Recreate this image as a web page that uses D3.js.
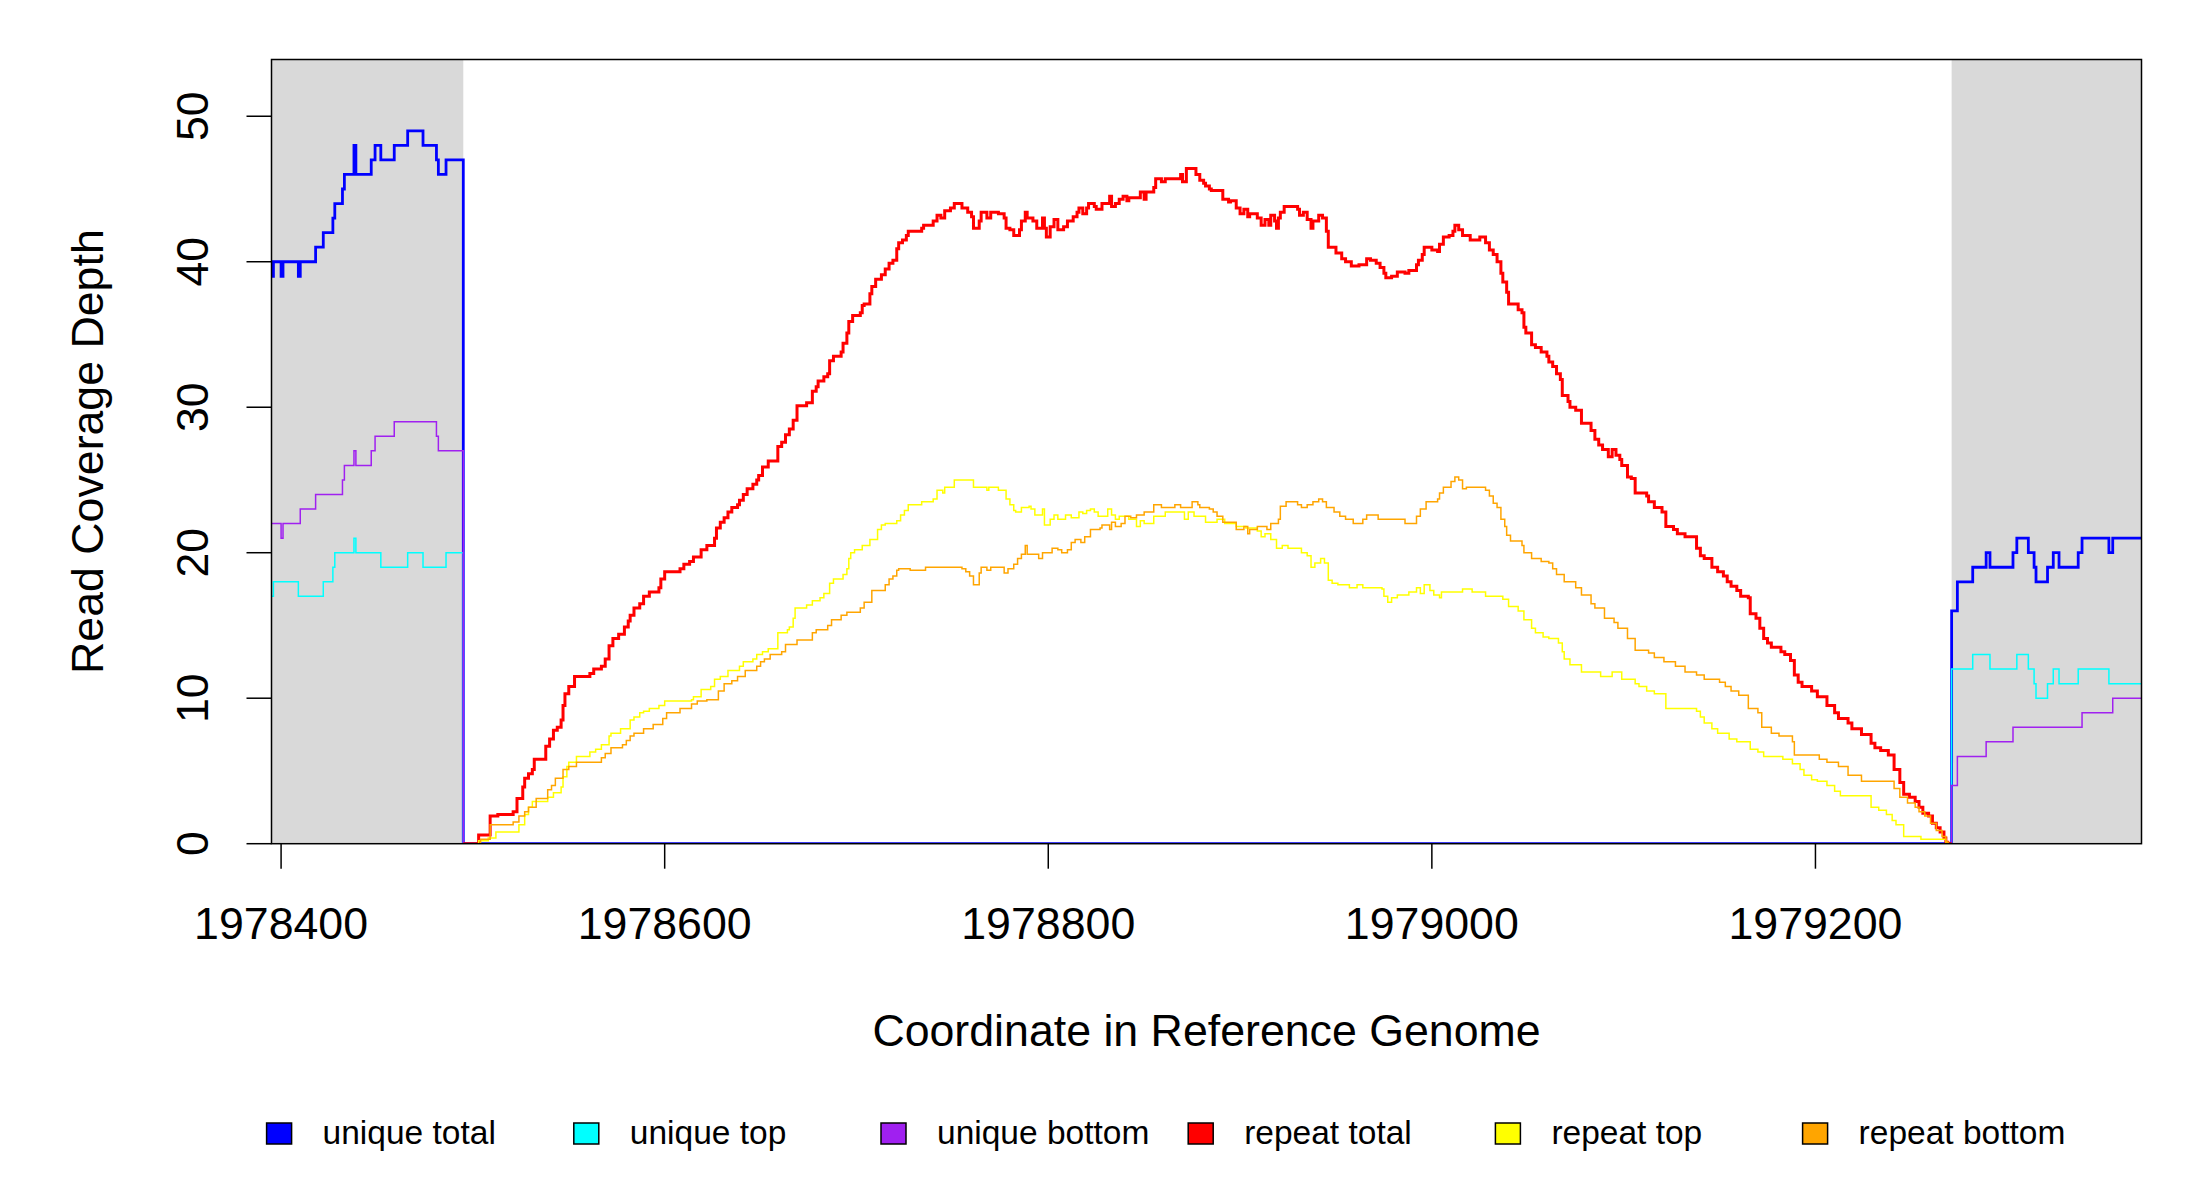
<!DOCTYPE html>
<html><head><meta charset="utf-8">
<script src="https://cdn.jsdelivr.net/npm/d3@7"></script>
<style>body{margin:0;background:#fff}svg{display:block}text{font-family:"Liberation Sans",Arial,Helvetica,sans-serif;fill:#000}</style>
</head><body><svg id="chart" width="2200" height="1200"></svg>
<script>
// ---------- data ----------
const xTicks = [1978400, 1978600, 1978800, 1979000, 1979200];
const yTicks = [0, 10, 20, 30, 40, 50];
const xDomain = [1978395, 1979370];
const yDomain = [0, 53.9];
const flankBounds = [1978495, 1979271];
const legendLabels = ["unique total", "unique top", "unique bottom", "repeat total", "repeat top", "repeat bottom"];
const seriesColors = ["#0000FF", "#00FFFF", "#A020F0", "#FF0000", "#FFFF00", "#FFA500"];

const uniqueTotal = [[1978395,39],[1978396,40],[1978400,39],[1978401,40],[1978409,39],[1978410,40],[1978418,41],[1978422,42],[1978427,43],[1978428,44],[1978432,45],[1978433,46],[1978438,48],[1978439,46],[1978447,47],[1978449,48],[1978452,47],[1978459,48],[1978466,49],[1978474,48],[1978481,47],[1978482,46],[1978486,47],[1978495,0],[1979271,16],[1979274,18],[1979282,19],[1979289,20],[1979291,19],[1979303,20],[1979305,21],[1979311,20],[1979314,19],[1979315,18],[1979321,19],[1979324,20],[1979327,19],[1979337,20],[1979339,21],[1979353,20],[1979355,21]];

const uniqueTop = [[1978395,17],[1978396,18],[1978409,17],[1978422,18],[1978427,19],[1978428,20],[1978438,21],[1978439,20],[1978452,19],[1978466,20],[1978474,19],[1978486,20],[1978495,0],[1979271,12],[1979282,13],[1979291,12],[1979305,13],[1979311,12],[1979314,11],[1979315,10],[1979321,11],[1979324,12],[1979327,11],[1979337,12],[1979353,11]];

const uniqueBottom = [[1978395,22],[1978400,21],[1978401,22],[1978410,23],[1978418,24],[1978432,25],[1978433,26],[1978438,27],[1978439,26],[1978447,27],[1978449,28],[1978459,29],[1978481,28],[1978482,27],[1978495,0],[1979271,4],[1979274,6],[1979289,7],[1979303,8],[1979339,9],[1979355,10]];

const repeatTotal = [[1978495,0],[1978503,0.6],[1978509,1.9],[1978513,2.0],[1978521,2.2],[1978523,3.1],[1978526,3.9],[1978527,4.5],[1978529,4.8],[1978531,5.1],[1978532,5.8],[1978538,6.7],[1978540,7.2],[1978542,7.8],[1978544,8.0],[1978546,8.5],[1978547,9.5],[1978548,10.3],[1978550,10.8],[1978553,11.5],[1978561,11.7],[1978563,12.0],[1978567,12.2],[1978569,12.7],[1978571,13.6],[1978573,14.1],[1978576,14.4],[1978579,14.9],[1978581,15.3],[1978582,15.7],[1978584,16.2],[1978587,16.5],[1978589,17.0],[1978592,17.3],[1978597,17.6],[1978598,18.2],[1978600,18.7],[1978608,18.9],[1978610,19.2],[1978613,19.4],[1978615,19.7],[1978619,20.2],[1978622,20.5],
[1978626,21.0],[1978627,21.7],[1978629,22.1],[1978631,22.4],[1978633,22.8],[1978635,23.1],[1978638,23.3],[1978639,23.6],[1978641,24.0],[1978643,24.4],[1978646,24.7],[1978648,25.0],[1978649,25.3],[1978651,25.9],[1978654,26.3],[1978659,27.3],[1978661,27.6],[1978663,28.1],[1978665,28.5],[1978667,29.1],[1978669,30.1],[1978674,30.3],[1978677,31.1],[1978679,31.4],[1978680,31.8],[1978683,32.1],[1978685,32.3],[1978686,33.2],[1978688,33.5],[1978692,33.8],[1978693,34.4],[1978695,35.1],[1978696,35.9],[1978698,36.3],[1978702,36.5],[1978703,37.0],[1978704,37.1],[1978707,37.8],[1978708,38.3],[1978710,38.8],[1978713,39.1],[1978715,39.5],[1978717,39.9],[1978719,40.1],[1978721,40.9],[1978722,41.3],[1978724,41.5],[1978726,41.8],[1978727,42.1],[1978734,42.3],[1978735,42.5],[1978740,42.8],[1978742,43.2],[1978744,43.0],[1978746,43.5],[1978749,43.7],[1978751,44.0],
[1978755,43.7],[1978758,43.4],[1978760,43.1],[1978761,42.3],[1978764,42.8],[1978765,43.4],[1978768,43.0],[1978770,43.4],[1978774,43.3],[1978777,43.0],[1978778,42.3],[1978780,42.2],[1978782,41.8],[1978785,42.2],[1978786,42.8],[1978788,43.4],[1978789,43.0],[1978792,42.8],[1978794,42.3],[1978797,43.0],[1978798,42.3],[1978799,41.7],[1978801,42.4],[1978803,42.9],[1978805,42.2],[1978808,42.4],[1978810,42.8],[1978813,43.1],[1978815,43.4],[1978816,43.7],[1978818,43.3],[1978820,43.7],[1978821,44.0],[1978824,43.8],[1978825,43.6],[1978828,44.0],[1978832,44.5],[1978833,43.8],[1978835,44.0],[1978837,44.3],[1978839,44.5],[1978841,44.2],[1978842,44.4],[1978848,44.8],[1978850,44.3],[1978851,44.8],[1978855,45.1],[1978856,45.7],[1978859,45.5],[1978861,45.7],[1978869,46.0],[1978870,45.5],[1978872,46.4],[1978877,46.0],[1978879,45.6],[1978881,45.4],[1978882,45.2],[1978884,45.0],
[1978885,44.9],[1978891,44.3],[1978894,44.1],[1978895,44.2],[1978898,43.7],[1978900,43.3],[1978902,43.6],[1978904,43.1],[1978905,43.3],[1978909,43.0],[1978911,42.5],[1978913,42.9],[1978915,42.5],[1978916,43.2],[1978918,42.8],[1978919,42.3],[1978920,43.0],[1978921,43.4],[1978923,43.8],[1978930,43.6],[1978931,43.2],[1978933,43.4],[1978935,42.9],[1978937,42.3],[1978938,42.8],[1978941,43.2],[1978943,43.0],[1978945,42.1],[1978946,41.0],[1978950,40.6],[1978953,40.2],[1978955,40.0],[1978958,39.7],[1978962,39.8],[1978966,40.2],[1978968,40.1],[1978971,39.9],[1978973,39.6],[1978975,39.2],[1978976,38.9],[1978979,39.0],[1978982,39.3],[1978986,39.2],[1978988,39.4],[1978992,39.8],[1978993,40.1],[1978995,40.5],[1978996,41.0],[1979000,40.8],[1979003,40.7],[1979004,41.2],[1979006,41.7],[1979009,41.8],[1979011,42.1],[1979012,42.5],[1979014,42.2],[1979016,41.8],
[1979020,41.5],[1979025,41.7],[1979028,41.3],[1979030,40.8],[1979032,40.5],[1979034,40.0],[1979036,39.2],[1979037,38.6],[1979039,37.9],[1979040,37.1],[1979045,36.7],[1979047,36.5],[1979048,35.5],[1979049,35.1],[1979052,34.3],[1979054,34.1],[1979057,33.8],[1979060,33.5],[1979061,33.1],[1979063,32.8],[1979065,32.3],[1979067,31.9],[1979068,30.8],[1979071,30.4],[1979072,30.0],[1979075,29.8],[1979078,28.9],[1979083,28.4],[1979085,27.8],[1979087,27.4],[1979089,27.1],[1979092,26.6],[1979094,27.1],[1979096,26.7],[1979098,26.4],[1979099,26.0],[1979102,25.2],[1979104,25.1],[1979106,24.1],[1979112,23.9],[1979113,23.5],[1979116,23.1],[1979120,22.8],[1979122,21.8],[1979126,21.6],[1979128,21.3],[1979132,21.1],[1979138,20.3],[1979140,19.8],[1979142,19.6],[1979146,19.0],
[1979149,18.7],[1979152,18.4],[1979154,18.0],[1979156,17.7],[1979159,17.4],[1979161,17.0],[1979165,16.9],[1979166,15.8],[1979169,15.5],[1979171,14.8],[1979173,14.1],[1979175,13.8],[1979177,13.5],[1979182,13.2],[1979184,13.0],[1979187,12.6],[1979189,11.6],[1979191,11.1],[1979193,10.8],[1979198,10.5],[1979201,10.1],[1979206,9.5],[1979210,9.0],[1979212,8.6],[1979217,8.3],[1979219,7.9],[1979224,7.5],[1979229,6.9],[1979231,6.6],[1979234,6.4],[1979238,6.1],[1979241,5.1],[1979244,4.2],[1979246,3.4],[1979249,3.2],[1979252,2.9],[1979254,2.5],[1979256,2.1],[1979259,1.9],[1979261,1.4],[1979263,1.1],[1979265,0.8],[1979267,0.4],[1979268,0.1],[1979269,0],[1979271,0]];

const repeatTop = [[1978395,0],[1978503,0.2],[1978508,0.4],[1978512,0.8],[1978524,1.3],[1978527,2.0],[1978529,2.5],[1978531,2.9],[1978539,3.2],[1978542,3.5],[1978546,3.9],[1978547,4.6],[1978549,5.3],[1978550,5.6],[1978554,6.0],[1978561,6.3],[1978564,6.5],[1978567,6.8],[1978571,7.4],[1978572,7.6],[1978577,7.9],[1978582,8.5],[1978584,8.7],[1978587,9.0],[1978589,9.1],[1978592,9.3],[1978597,9.5],[1978600,9.8],[1978614,9.9],[1978615,10.1],[1978619,10.6],
[1978624,10.8],[1978626,11.3],[1978629,11.5],[1978633,11.9],[1978639,12.2],[1978641,12.5],[1978646,12.7],[1978648,13.0],[1978651,13.2],[1978654,13.4],[1978659,14.5],[1978664,14.7],[1978665,14.9],[1978667,15.5],[1978668,16.2],[1978674,16.4],[1978677,16.7],[1978681,16.9],[1978683,17.2],[1978686,17.9],[1978688,18.2],[1978693,18.5],[1978695,18.9],[1978696,19.6],[1978697,20.0],[1978699,20.2],[1978703,20.5],[1978707,20.9],[1978711,21.6],[1978713,21.9],[1978715,22.0],[1978721,22.2],[1978723,22.6],[1978725,22.9],[1978727,23.3],[1978734,23.5],[1978740,23.7],[1978742,24.3],[1978745,24.1],[1978746,24.5],[1978751,25.0],
[1978761,24.5],[1978768,24.3],[1978769,24.5],[1978774,24.3],[1978778,23.7],[1978780,23.3],[1978782,22.9],[1978783,22.8],[1978786,23.1],[1978790,23.2],[1978791,23.0],[1978793,22.6],[1978797,23.0],[1978798,21.9],[1978801,22.3],[1978803,22.6],[1978805,22.3],[1978809,22.6],[1978812,22.4],[1978816,22.8],[1978818,22.7],[1978820,22.9],[1978822,23.0],[1978824,22.8],[1978826,22.5],[1978831,23.0],[1978833,22.6],[1978835,22.3],[1978837,22.5],[1978842,22.3],[1978846,21.8],[1978848,22.2],[1978850,22.0],[1978855,22.5],[1978861,22.8],[1978871,22.3],[1978873,22.8],[1978876,22.5],[1978882,22.1],
[1978888,22.3],[1978892,22.0],[1978898,21.8],[1978903,21.7],[1978909,21.5],[1978911,21.1],[1978913,21.3],[1978916,20.9],[1978919,20.3],[1978922,20.5],[1978925,20.3],[1978932,20.0],[1978935,19.8],[1978937,19.0],[1978939,19.3],[1978942,19.6],[1978944,19.3],[1978946,18.1],[1978948,17.9],[1978951,17.8],[1978957,17.6],[1978961,17.8],[1978964,17.6],[1978974,17.5],[1978975,17.0],[1978977,16.6],[1978979,16.9],[1978982,17.1],[1978988,17.3],[1978992,17.6],[1978994,17.2],[1978996,17.8],[1978999,17.4],[1979001,17.1],[1979004,16.9],[1979005,17.3],[1979016,17.5],
[1979021,17.3],[1979028,17.0],[1979037,16.8],[1979040,16.3],[1979045,16.0],[1979048,15.4],[1979052,14.8],[1979054,14.5],[1979058,14.2],[1979061,14.1],[1979066,13.8],[1979068,13.2],[1979069,12.7],[1979072,12.3],[1979078,11.8],[1979088,11.5],[1979094,11.8],[1979099,11.3],[1979106,11.0],[1979108,10.8],[1979112,10.5],[1979116,10.3],[1979122,9.3],[1979138,9.1],[1979140,8.7],[1979142,8.3],[1979146,7.9],
[1979149,7.6],[1979155,7.2],[1979159,7.0],[1979166,6.5],[1979170,6.3],[1979173,6.0],[1979183,5.8],[1979188,5.5],[1979192,5.1],[1979194,4.7],[1979198,4.4],[1979201,4.3],[1979206,4.0],[1979210,3.6],[1979213,3.3],[1979229,2.5],[1979233,2.3],[1979237,2.0],[1979240,1.6],[1979242,1.3],[1979246,0.5],[1979255,0.3],[1979268,0.1],[1979269,0]];

const repeatBottom = [[1978395,0],[1978504,0.3],[1978509,1.3],[1978521,1.5],[1978524,1.9],[1978527,2.2],[1978529,2.5],[1978533,3.1],[1978539,3.7],[1978541,4.0],[1978543,4.5],[1978547,5.1],[1978550,5.3],[1978554,5.6],[1978567,5.9],[1978569,6.2],[1978572,6.6],[1978578,6.8],[1978580,7.1],[1978582,7.4],[1978584,7.6],[1978589,7.9],[1978594,8.2],[1978599,8.6],[1978601,9.0],[1978608,9.3],[1978614,9.6],[1978617,9.8],[1978622,9.9],
[1978628,10.5],[1978631,11.0],[1978635,11.2],[1978638,11.5],[1978642,11.9],[1978648,12.2],[1978650,12.5],[1978652,12.7],[1978655,13.0],[1978661,13.2],[1978663,13.7],[1978669,14.0],[1978677,14.5],[1978679,14.7],[1978685,15.0],[1978687,15.4],[1978692,15.7],[1978695,15.9],[1978702,16.2],[1978704,16.6],[1978708,17.4],[1978715,17.8],[1978717,18.2],[1978719,18.4],[1978721,18.8],[1978722,18.9],[1978728,18.8],[1978736,19.0],
[1978755,18.9],[1978757,18.7],[1978759,18.4],[1978761,17.8],[1978764,18.6],[1978765,19.0],[1978768,18.8],[1978770,19.0],[1978777,18.6],[1978779,18.9],[1978782,19.2],[1978784,19.6],[1978786,19.9],[1978788,20.5],[1978789,19.9],[1978795,19.6],[1978797,20.0],[1978802,20.3],[1978805,20.2],[1978807,20.0],[1978810,20.2],[1978812,20.7],[1978814,20.9],[1978817,20.7],[1978819,21.1],[1978822,21.6],[1978827,21.7],[1978828,21.9],[1978832,21.6],[1978833,22.1],[1978835,21.8],[1978838,22.0],[1978840,22.5],[1978843,22.4],[1978846,22.6],[1978850,22.8],[1978855,23.3],[1978859,23.1],[1978866,23.3],[1978869,23.1],[1978875,23.5],[1978878,23.3],[1978879,23.1],
[1978884,23.0],[1978886,22.8],[1978888,22.5],[1978891,22.1],[1978898,21.6],[1978902,21.8],[1978904,21.3],[1978905,21.6],[1978909,21.8],[1978914,21.6],[1978916,22.0],[1978920,22.3],[1978921,23.2],[1978924,23.5],[1978930,23.3],[1978932,23.1],[1978935,23.3],[1978938,23.5],[1978941,23.7],[1978943,23.5],[1978945,23.1],[1978949,22.8],[1978952,22.5],[1978955,22.3],[1978959,22.0],[1978964,22.3],[1978966,22.6],[1978972,22.3],[1978986,22.0],[1978992,22.5],[1978994,23.0],[1978997,23.5],[1979003,23.7],[1979004,24.1],[1979006,24.5],[1979010,24.9],[1979012,25.2],[1979014,25.0],[1979016,24.4],[1979018,24.5],
[1979028,24.3],[1979030,23.9],[1979032,23.4],[1979034,23.1],[1979036,22.3],[1979038,21.8],[1979039,21.2],[1979041,20.8],[1979047,20.5],[1979048,20.0],[1979052,19.6],[1979057,19.4],[1979061,19.3],[1979063,18.9],[1979065,18.5],[1979069,18.0],[1979075,17.6],[1979078,17.1],[1979083,16.5],[1979085,16.2],[1979090,15.5],[1979095,15.2],[1979097,14.8],[1979102,14.1],[1979106,13.3],[1979113,13.1],[1979116,12.8],[1979121,12.5],[1979127,12.2],[1979132,11.8],[1979138,11.6],[1979142,11.3],[1979150,11.1],
[1979153,10.8],[1979156,10.5],[1979160,10.2],[1979165,9.3],[1979170,9.0],[1979172,8.0],[1979177,7.6],[1979181,7.4],[1979188,7.0],[1979189,6.1],[1979202,5.8],[1979206,5.6],[1979212,5.3],[1979217,4.7],[1979224,4.3],[1979241,3.8],[1979244,3.2],[1979248,2.8],[1979252,2.5],[1979254,2.2],[1979257,1.9],[1979260,1.4],[1979263,0.9],[1979266,0.5],[1979268,0.1],[1979269,0]];

// ---------- drawing ----------
const svg = d3.select("#chart");
const plot = {left: 271.5, right: 2141.5, top: 59.5, bottom: 843.7};
const x = d3.scaleLinear().domain(xDomain).range([plot.left, plot.right]);
const y = d3.scaleLinear().domain(yDomain).range([plot.bottom, plot.top]);

svg.append("rect").attr("width", 2200).attr("height", 1200).attr("fill", "#fff");

svg.append("defs").append("clipPath").attr("id", "clip")
  .append("rect").attr("x", plot.left).attr("y", plot.top)
  .attr("width", plot.right - plot.left).attr("height", plot.bottom - plot.top);

// shaded flanks
svg.append("rect").attr("x", x(xDomain[0])).attr("y", plot.top)
  .attr("width", x(flankBounds[0]) - x(xDomain[0])).attr("height", plot.bottom - plot.top)
  .attr("fill", "#D9D9D9");
svg.append("rect").attr("x", x(flankBounds[1])).attr("y", plot.top)
  .attr("width", x(xDomain[1]) - x(flankBounds[1])).attr("height", plot.bottom - plot.top)
  .attr("fill", "#D9D9D9");

const series = [uniqueTotal, uniqueTop, uniqueBottom, repeatTotal, repeatTop, repeatBottom];
const widths = [2.8, 1.5, 1.5, 3.0, 1.5, 1.5];
const line = d3.line().x(d => x(d[0])).y(d => y(d[1])).curve(d3.curveStepAfter);
const g = svg.append("g").attr("clip-path", "url(#clip)");
series.forEach((s, i) => {
  const pts = s === repeatTotal ? s : s.concat([[xDomain[1], s[s.length - 1][1]]]);
  g.append("path").attr("d", line(pts)).attr("fill", "none")
    .attr("stroke", seriesColors[i]).attr("stroke-width", widths[i])
    .attr("stroke-linejoin", "miter").attr("stroke-linecap", "butt");
});

// box
svg.append("rect").attr("x", plot.left).attr("y", plot.top)
  .attr("width", plot.right - plot.left).attr("height", plot.bottom - plot.top)
  .attr("fill", "none").attr("stroke", "#000").attr("stroke-width", 1.5);

// x axis
const xa = svg.append("g");
xTicks.forEach(t => {
  xa.append("line").attr("x1", x(t)).attr("x2", x(t)).attr("y1", plot.bottom).attr("y2", plot.bottom + 25)
    .attr("stroke", "#000").attr("stroke-width", 1.5);
  xa.append("text").attr("x", x(t)).attr("y", 938.5).attr("text-anchor", "middle")
    .attr("font-size", 44.7).text(t);
});
// y axis
const ya = svg.append("g");
yTicks.forEach(t => {
  ya.append("line").attr("x1", plot.left).attr("x2", plot.left - 25).attr("y1", y(t)).attr("y2", y(t))
    .attr("stroke", "#000").attr("stroke-width", 1.5);
  ya.append("text").attr("transform", `translate(192,${y(t)}) rotate(-90)`)
    .attr("text-anchor", "middle").attr("dy", "0.36em").attr("font-size", 44.7).text(t);
});

// axis titles
svg.append("text").attr("x", (plot.left + plot.right) / 2).attr("y", 1046)
  .attr("text-anchor", "middle").attr("font-size", 44.7).text("Coordinate in Reference Genome");
svg.append("text").attr("transform", `translate(87,${(plot.top + plot.bottom) / 2}) rotate(-90)`)
  .attr("text-anchor", "middle").attr("dy", "0.36em").attr("font-size", 44.7).text("Read Coverage Depth");

// legend
const lg = svg.append("g");
legendLabels.forEach((lab, i) => {
  const lx = 266.6 + i * 307.2;
  lg.append("rect").attr("x", lx).attr("y", 1123).attr("width", 25).attr("height", 21)
    .attr("fill", seriesColors[i]).attr("stroke", "#000").attr("stroke-width", 1.5);
  lg.append("text").attr("x", lx + 56).attr("y", 1144).attr("font-size", 33.5).text(lab);
});
</script></body></html>
